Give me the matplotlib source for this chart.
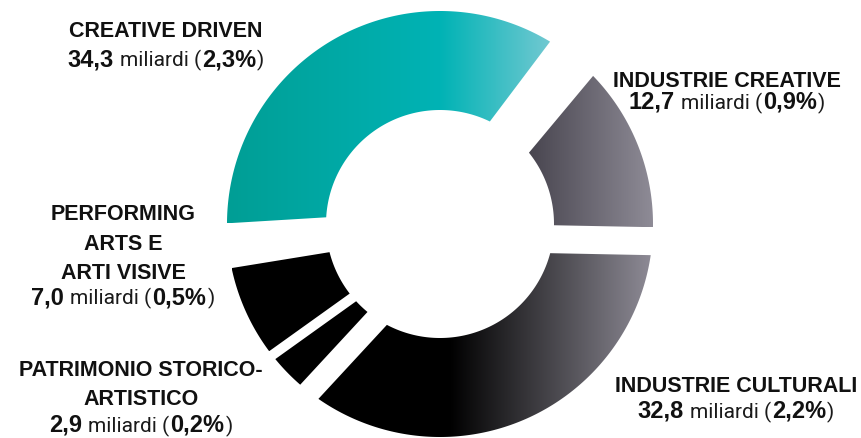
import numpy as np
import matplotlib.pyplot as plt
from matplotlib.patches import Polygon
from matplotlib.colors import to_rgb

# valore aggiunto per settore, in miliardi di euro, e quota sul totale economia
settori = ["CREATIVE DRIVEN", "INDUSTRIE CREATIVE", "INDUSTRIE CULTURALI",
           "PATRIMONIO STORICO-\nARTISTICO", "PERFORMING\nARTS E\nARTI VISIVE"]
valori = [34.3, 12.7, 32.8, 2.9, 7.0]
quote = [2.3, 0.9, 2.2, 0.2, 0.5]

W, H = 862, 439
cx, cy = 440, H - 225
r_in, r_out = 114, 213
start = 187.5

# tagli bianchi dopo ogni spicchio: spostamento (interno, esterno), larghezza (interna, esterna)
tagli = [(-3, -6, 50, 55), (13, 13, 28, 28), (-18, -18, 23, 23),
         (-9, -9, 10, 10), (4, 6, 35, 45)]

# sfumature orizzontali: (x in px, colore)
sfumature = [
    [(227, '#009e95'), (440, '#00b3b5'), (552, '#74c9d2')],
    [(525, '#46434d'), (655, '#908d98')],
    [(450, '#000000'), (655, '#908d98')],
    [(0, '#000000'), (W, '#000000')],
    [(0, '#000000'), (W, '#000000')],
]

# posizione etichette: centro x e linee di base (px dall'alto)
etichette = [
    (166, [37, 66]),
    (727, [87, 109]),
    (736, [392, 418]),
    (141, [376, 405, 432]),
    (123, [220, 250, 279, 304]),
]

fig = plt.figure(figsize=(W / 100, H / 100), dpi=100)
ax = fig.add_axes([0, 0, 1, 1])
ax.set_axis_off()


def angolo(theta, off, r):
    return theta - np.degrees(np.arcsin(off / r))


bordi = start - np.concatenate([[0], np.cumsum(np.array(valori) / sum(valori) * 360)])

for i in range(len(valori)):
    gp, gn = tagli[i - 1], tagli[i]
    hi_in = angolo(bordi[i], gp[0] + gp[2] / 2, r_in)
    hi_out = angolo(bordi[i], gp[1] + gp[3] / 2, r_out)
    lo_in = angolo(bordi[i + 1], gn[0] - gn[2] / 2, r_in)
    lo_out = angolo(bordi[i + 1], gn[1] - gn[3] / 2, r_out)
    t_out = np.radians(np.linspace(hi_out, lo_out, 200))
    t_in = np.radians(np.linspace(lo_in, hi_in, 200))
    xs = np.r_[cx + r_out * np.cos(t_out), cx + r_in * np.cos(t_in)]
    ys = np.r_[cy + r_out * np.sin(t_out), cy + r_in * np.sin(t_in)]
    poly = Polygon(np.c_[xs, ys], closed=True, facecolor='none', edgecolor='none')
    ax.add_patch(poly)

    x0, x1 = xs.min(), xs.max()
    gx = np.linspace(x0, x1, 400)
    pos = [p for p, _ in sfumature[i]]
    cols = np.array([to_rgb(c) for _, c in sfumature[i]])
    img = np.stack([np.interp(gx, pos, cols[:, k]) for k in range(3)], axis=-1)
    im = ax.imshow(img[np.newaxis], extent=[x0, x1, ys.min(), ys.max()],
                   aspect='auto', interpolation='bilinear', zorder=2)
    im.set_clip_path(poly)

ax.set_xlim(0, W)
ax.set_ylim(0, H)

renderer = fig.canvas.get_renderer()


def riga(x, y_top, parti, size=15.5):
    testi = []
    for s, grassetto in parti:
        if grassetto:
            t = ax.text(0, H - y_top, s, family='Liberation Sans', weight='bold',
                        fontsize=size, va='baseline', ha='left', color='#111111', zorder=5)
        else:
            t = ax.text(0, H - y_top, s, family='Roboto', weight='normal',
                        fontsize=15, va='baseline', ha='left', color='#1a1a1a', zorder=5)
        testi.append(t)
    spazio = 6
    larg = [t.get_window_extent(renderer).width for t in testi]
    tot = sum(larg) + (spazio if len(testi) > 1 else 0) + max(len(testi) - 2, 0)
    xp = x - tot / 2
    for j, (t, l) in enumerate(zip(testi, larg)):
        t.set_x(xp)
        xp += l + (spazio if j == 0 else 1)


def numero(v):
    return f"{v:.1f}".replace('.', ',')


for nome, v, q, (x, basi) in zip(settori, valori, quote, etichette):
    righe = nome.split('\n')
    for r, b in zip(righe, basi):
        riga(x, b, [(r, True)])
    riga(x, basi[-1], [(numero(v), True), ("miliardi (", False),
                       (numero(q) + "%", True), (")", False)], size=17)

fig.savefig('out.png', dpi=100)
